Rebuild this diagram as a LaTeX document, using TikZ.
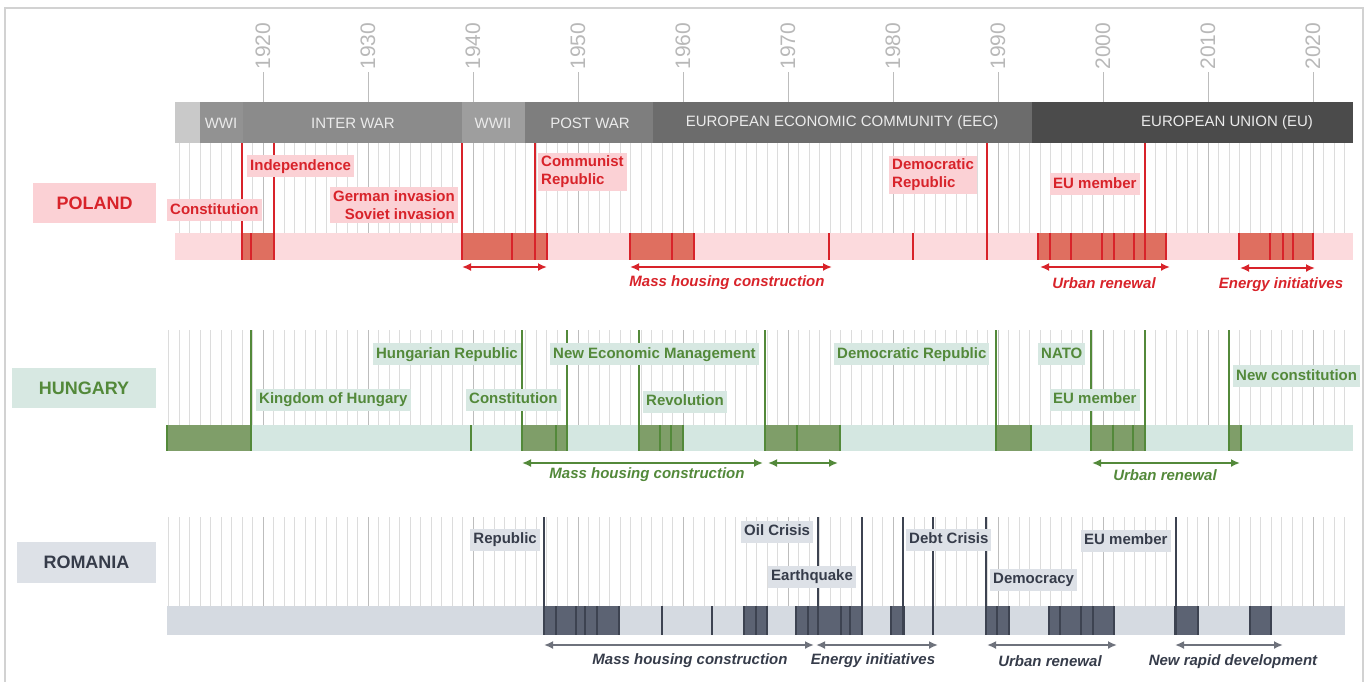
\documentclass[tikz,border=0pt]{standalone}
\usepackage{fontspec}
\setmainfont{Liberation Sans}
\usetikzlibrary{arrows.meta}

% palette
\definecolor{framec}{HTML}{D2D2D2}
\definecolor{yearc}{HTML}{B8B8B8}
\definecolor{gridc}{HTML}{DCDCDC}
\definecolor{gridd}{HTML}{BDBDBD}
\definecolor{era0}{HTML}{C9C9C9}
\definecolor{era1}{HTML}{929292}
\definecolor{era2}{HTML}{8B8B8B}
\definecolor{era3}{HTML}{9E9E9E}
\definecolor{era4}{HTML}{7E7E7E}
\definecolor{era5}{HTML}{6C6C6C}
\definecolor{era6}{HTML}{4B4B4B}
\definecolor{plred}{HTML}{D8232A}
\definecolor{plbox}{HTML}{FBD1D5}
\definecolor{plbar}{HTML}{FCDADD}
\definecolor{plseg}{HTML}{DF6F60}
\definecolor{hugreen}{HTML}{53893A}
\definecolor{hubox}{HTML}{D7E8E2}
\definecolor{hubar}{HTML}{D4E7E1}
\definecolor{huseg}{HTML}{7F9E69}
\definecolor{rodark}{HTML}{363C4A}
\definecolor{robox}{HTML}{DDE1E7}
\definecolor{robar}{HTML}{D5DAE1}
\definecolor{roseg}{HTML}{5C6373}
\definecolor{roline}{HTML}{3D4351}
\definecolor{roarrow}{HTML}{6E727C}

\tikzset{
  lab/.style={inner xsep=3pt, inner ysep=4pt, text height=11pt, text depth=3pt,
    font=\fontsize{15}{18}\selectfont\bfseries},
  lab2/.style={inner xsep=3pt, inner ysep=3pt, align=left,
    font=\fontsize{15}{18}\selectfont\bfseries},
  pl/.style={fill=plbox, text=plred},
  hu/.style={fill=hubox, text=hugreen},
  ro/.style={fill=robox, text=rodark},
  country/.style={minimum width=123pt, minimum height=40pt, inner sep=0pt,
    font=\fontsize{18}{20}\selectfont\bfseries},
  era/.style={text=white!92!black, font=\fontsize{15}{18}\selectfont},
  plline/.style={draw=plred, line width=1.6pt},
  pltall/.style={draw=plred, line width=2.6pt},
  huline/.style={draw=hugreen, line width=1.6pt},
  hutall/.style={draw=hugreen, line width=2.6pt},
  roline/.style={draw=roline, line width=1.6pt},
  rotall/.style={draw=roline, line width=2.6pt},
  span/.style={line width=2.2pt, {Latex[length=9pt,width=8pt]}-{Latex[length=9pt,width=8pt]}},
  spantext/.style={font=\fontsize{15}{18}\selectfont\bfseries\itshape},
}

\begin{document}
\begin{tikzpicture}[x=1pt,y=-1pt]
\useasboundingbox (0,0) rectangle (1371,681);

% outer frame
\draw[framec, line width=1.5pt] (5,690) -- (5,8) -- (1363,8) -- (1363,690);

% decade labels and ticks
\foreach \yr in {1920,1930,...,2020} {
  \pgfmathsetmacro\xx{263+(\yr-1920)*10.5}
  \node[rotate=90, text=yearc, font=\fontsize{21}{21}\selectfont, inner sep=0pt] (yr\yr) at (\xx,46) {\yr};
  \draw[gridd, line width=1pt] (\xx,72) -- (\xx,102);
}

% era band
\fill[era0] (175,102) rectangle (200,143);
\fill[era1] (200,102) rectangle (243,143);
\fill[era2] (243,102) rectangle (462,143);
\fill[era3] (462,102) rectangle (525,143);
\fill[era4] (525,102) rectangle (653,143);
\fill[era5] (653,102) rectangle (1032,143);
\fill[era6] (1032,102) rectangle (1353,143);
\node[era] (eWWI) at (221,123) {WWI};
\node[era] (eIW) at (353,123) {INTER WAR};
\node[era] (eWWII) at (493,123) {WWII};
\node[era] (ePW) at (590,123) {POST WAR};
\node[era] (eEEC) at (842,123) {EUROPEAN ECONOMIC COMMUNITY (EEC)};
\node[era] (eEU) at (1227,123) {EUROPEAN UNION (EU)};

% yearly grid lines of the three rows
\foreach \yr in {1911,...,2023} {
  \pgfmathsetmacro\xx{263+(\yr-1920)*10.5}
  \pgfmathtruncatemacro\dec{mod(\yr,10)==0 ? 1 : 0}
  \ifnum\dec=1 \def\gc{gridd}\else\def\gc{gridc}\fi
  \ifnum\yr>1911 \draw[\gc, line width=0.8pt] (\xx,143) -- (\xx,233); \fi
  \draw[\gc, line width=0.8pt] (\xx,330) -- (\xx,425);
  \draw[\gc, line width=0.8pt] (\xx,517) -- (\xx,606);
}

% ---------------- POLAND ----------------
\node[country, pl] (poland) at (94.5,203) {POLAND};
\fill[plbar] (175,233) rectangle (1353,260);
\foreach \a/\b in {242/274, 462/547, 630/694, 1038/1166, 1239/1313} {
  \fill[plseg] (\a,233) rectangle (\b,260);
  \draw[plline] (\a,233) -- (\a,260) (\b,233) -- (\b,260);
}
\foreach \a in {251,512,672,829,913,1050,1071,1102,1114,1134,1270,1283,1293}
  \draw[plline] (\a,233) -- (\a,260);
\foreach \a in {242,274,462,535,987,1145}
  \draw[pltall] (\a,143) -- (\a,260);

\node[lab, pl, anchor=west] (plIndep) at (247,166) {Independence};
\node[lab, pl, anchor=west] (plConst) at (167,210) {Constitution};
\node[lab2, pl, anchor=east, align=right] (plInv) at (458,205) {German invasion\\Soviet invasion};
\node[lab2, pl, anchor=west] (plComm) at (538,172) {Communist\\Republic};
\node[lab2, pl, anchor=west] (plDem) at (889,175) {Democratic\\Republic};
\node[lab, pl, anchor=west] (plEU) at (1050,184) {EU member};

\coordinate (pa1) at (462,267); \coordinate (pb1) at (547,267);
\coordinate (pa2) at (630,267); \coordinate (pb2) at (832,267);
\coordinate (pa3) at (1040,267); \coordinate (pb3) at (1170,267);
\coordinate (pa4) at (1240,268); \coordinate (pb4) at (1315,268);
\draw[span, plred] (pa1) -- (pb1);
\draw[span, plred] (pa2) -- (pb2);
\draw[span, plred] (pa3) -- (pb3);
\draw[span, plred] (pa4) -- (pb4);
\node[spantext, text=plred] (plMass) at (727,283) {Mass housing construction};
\node[spantext, text=plred] (plUrb) at (1104,283) {Urban renewal};
\node[spantext, text=plred] (plEn) at (1281,285) {Energy initiatives};

% ---------------- HUNGARY ----------------
\node[country, hu, minimum width=144pt] (hungary) at (84,388) {HUNGARY};
\fill[hubar] (167,425) rectangle (1353,451);
\foreach \a/\b in {167/251, 522/567, 639/683, 765/840, 996/1031, 1091/1145, 1229/1241} {
  \fill[huseg] (\a,425) rectangle (\b,451);
  \draw[huline] (\a,425) -- (\a,451) (\b,425) -- (\b,451);
}
\foreach \a in {471,556,660,671,797,1113,1133}
  \draw[huline] (\a,425) -- (\a,451);
\foreach \a in {251,522,567,639,765,996,1091,1145,1229}
  \draw[hutall] (\a,330) -- (\a,451);

\node[lab, hu, anchor=west] (huKing) at (256,399.5) {Kingdom of Hungary};
\node[lab, hu, anchor=east] (huRep) at (521,354) {Hungarian Republic};
\node[lab, hu, anchor=west] (huConst) at (466,399.5) {Constitution};
\node[lab, hu, anchor=west] (huNEM) at (550,354) {New Economic Management};
\node[lab, hu, anchor=west] (huRev) at (643,401.5) {Revolution};
\node[lab, hu, anchor=west] (huDem) at (834,354) {Democratic Republic};
\node[lab, hu, anchor=west] (huNATO) at (1038,354) {NATO};
\node[lab, hu, anchor=west] (huEU) at (1050,399.5) {EU member};
\node[lab, hu, anchor=west] (huNew) at (1233,376) {New constitution};

\coordinate (ha1) at (522,463); \coordinate (hb1) at (763,463);
\coordinate (ha2) at (768,463); \coordinate (hb2) at (838,463);
\coordinate (ha3) at (1092,463); \coordinate (hb3) at (1240,463);
\draw[span, hugreen] (ha1) -- (hb1);
\draw[span, hugreen] (ha2) -- (hb2);
\draw[span, hugreen] (ha3) -- (hb3);
\node[spantext, text=hugreen] (huMass) at (647,475) {Mass housing construction};
\node[spantext, text=hugreen] (huUrb) at (1165,475) {Urban renewal};

% ---------------- ROMANIA ----------------
\node[country, ro, minimum width=139pt, minimum height=41pt] (romania) at (86.5,562.5) {ROMANIA};
\fill[robar] (167,606) rectangle (1345,635);
\foreach \a/\b in {544/619, 744/767, 796/862, 891/904, 986/1009, 1049/1114, 1175/1198, 1250/1271} {
  \fill[roseg] (\a,606) rectangle (\b,635);
  \draw[roline] (\a,606) -- (\a,635) (\b,606) -- (\b,635);
}
\foreach \a in {556,576,585,597,662,712,756,808,841,850,997,1060,1081,1093}
  \draw[roline] (\a,606) -- (\a,635);
\foreach \a in {544,818,862,903,933,986,1176}
  \draw[rotall] (\a,517) -- (\a,635);

\node[lab, ro, anchor=east] (roRep) at (540,539.5) {Republic};
\node[lab, ro, anchor=west] (roOil) at (741,531.5) {Oil Crisis};
\node[lab, ro, anchor=west] (roQuake) at (768,576.5) {Earthquake};
\node[lab, ro, anchor=west] (roDebt) at (906,539.5) {Debt Crisis};
\node[lab, ro, anchor=west] (roDemo) at (990,579.5) {Democracy};
\node[lab, ro, anchor=west] (roEU) at (1081,540.5) {EU member};

\coordinate (ra1) at (544,645); \coordinate (rb1) at (814,645);
\coordinate (ra2) at (816,645); \coordinate (rb2) at (938,645);
\coordinate (ra3) at (987,645); \coordinate (rb3) at (1117,645);
\coordinate (ra4) at (1175,645); \coordinate (rb4) at (1283,645);
\draw[span, roarrow] (ra1) -- (rb1);
\draw[span, roarrow] (ra2) -- (rb2);
\draw[span, roarrow] (ra3) -- (rb3);
\draw[span, roarrow] (ra4) -- (rb4);
\node[spantext, text=rodark] (roMass) at (690,661) {Mass housing construction};
\node[spantext, text=rodark] (roEn) at (873,661) {Energy initiatives};
\node[spantext, text=rodark] (roUrb) at (1050,661) {Urban renewal};
\node[spantext, text=rodark] (roNew) at (1233,662) {New rapid development};
\end{tikzpicture}
\end{document}
